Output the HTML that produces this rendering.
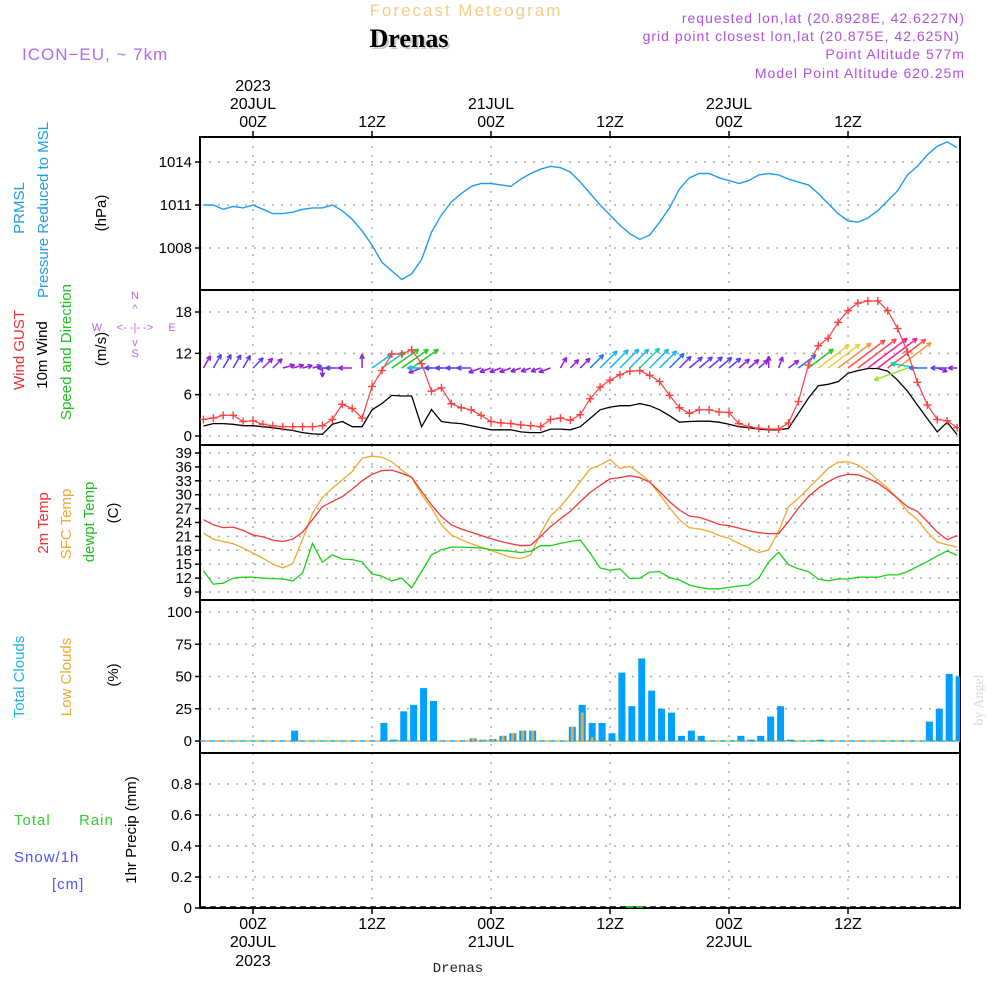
<!DOCTYPE html>
<html><head><meta charset="utf-8"><style>
html,body{margin:0;padding:0;background:#fff;}
svg{display:block;font-family:"Liberation Sans",sans-serif;}
</style></head><body>
<svg id="c" width="1000" height="1000" viewBox="0 0 1000 1000" xmlns="http://www.w3.org/2000/svg">
<g>
<text x="466" y="16" text-anchor="middle" font-size="17" fill="#f3cc88" letter-spacing="2">Forecast Meteogram</text>
<text x="411" y="49" text-anchor="middle" font-size="26" font-weight="bold" font-family="Liberation Serif,serif" fill="#c8d0c0">Drenas</text>
<text x="409" y="47" text-anchor="middle" font-size="26" font-weight="bold" font-family="Liberation Serif,serif" fill="#000">Drenas</text>
<text x="22" y="60" font-size="17" fill="#b468ee" letter-spacing="1">ICON−EU, ~ 7km</text>
<g font-size="14" fill="#b050e0" text-anchor="end" letter-spacing="1">
<text x="965" y="23">requested lon,lat (20.8928E, 42.6227N)</text>
<text x="960" y="41">grid point closest lon,lat (20.875E, 42.625N)</text>
<text x="965" y="59">Point Altitude 577m</text>
<text x="965" y="78">Model Point Altitude 620.25m</text>
</g>
</g>
<g id="axes"></g>
<g id="marks"></g>
<g font-size="15">
<text transform="translate(24,208) rotate(-90)" text-anchor="middle" fill="#1e9bf0">PRMSL</text>
<text transform="translate(48,210) rotate(-90)" text-anchor="middle" fill="#1e9bf0">Pressure Reduced to MSL</text>
<text transform="translate(106,213) rotate(-90)" text-anchor="middle" fill="#000">(hPa)</text>
<text transform="translate(24,350) rotate(-90)" text-anchor="middle" fill="#f03030">Wind GUST</text>
<text transform="translate(47,355) rotate(-90)" text-anchor="middle" fill="#000">10m Wind</text>
<text transform="translate(71,352) rotate(-90)" text-anchor="middle" fill="#20c020">Speed and Direction</text>
<text transform="translate(106,349) rotate(-90)" text-anchor="middle" fill="#000">(m/s)</text>
<g fill="#b468ee" font-size="11">
<text x="135" y="299" text-anchor="middle">N</text>
<text x="135" y="312" text-anchor="middle">^</text>
<text x="97" y="331" text-anchor="middle">W</text>
<text x="135" y="331" text-anchor="middle">&lt;- -|- -&gt;</text>
<text x="172" y="331" text-anchor="middle">E</text>
<text x="135" y="346" text-anchor="middle">v</text>
<text x="135" y="357" text-anchor="middle">S</text>
</g>
<text transform="translate(48,523) rotate(-90)" text-anchor="middle" fill="#f03030">2m Temp</text>
<text transform="translate(71,524) rotate(-90)" text-anchor="middle" fill="#f0a830">SFC Temp</text>
<text transform="translate(94,522) rotate(-90)" text-anchor="middle" fill="#20c020">dewpt Temp</text>
<text transform="translate(118,513) rotate(-90)" text-anchor="middle" fill="#000">(C)</text>
<text transform="translate(24,677) rotate(-90)" text-anchor="middle" fill="#1eb0f0">Total Clouds</text>
<text transform="translate(71,677) rotate(-90)" text-anchor="middle" fill="#f0a830">Low Clouds</text>
<text transform="translate(118,675) rotate(-90)" text-anchor="middle" fill="#000">(%)</text>
<text x="14" y="825" fill="#30d030" letter-spacing="1">Total</text>
<text x="79" y="825" fill="#30d030" letter-spacing="1">Rain</text>
<text x="14" y="862" fill="#5050ff" letter-spacing="1">Snow/1h</text>
<text x="52" y="889" fill="#5050ff" letter-spacing="1">[cm]</text>
<text transform="translate(136,830) rotate(-90)" text-anchor="middle" fill="#000">1hr Precip (mm)</text>
</g>
<text transform="translate(983,700) rotate(-90)" text-anchor="middle" font-size="14" font-family="Liberation Serif,serif" fill="#d8d8d8">by Angel</text>
<text x="458" y="972" text-anchor="middle" font-size="14" font-family="Liberation Mono,monospace" fill="#222">Drenas</text>
</svg>
<script>
const hours0 = -5;
const pressure = [1011.0,1011.0,1010.7,1010.9,1010.8,1011.0,1010.7,1010.4,1010.4,1010.5,1010.7,1010.8,1010.8,1011.0,1010.6,1010.0,1009.2,1008.2,1007.0,1006.4,1005.8,1006.2,1007.2,1009.1,1010.3,1011.2,1011.8,1012.3,1012.5,1012.5,1012.4,1012.3,1012.8,1013.2,1013.5,1013.7,1013.6,1013.3,1012.6,1011.8,1011.0,1010.3,1009.6,1009.0,1008.6,1008.9,1009.8,1010.8,1012.1,1012.9,1013.2,1013.2,1012.9,1012.7,1012.5,1012.7,1013.1,1013.2,1013.1,1012.8,1012.6,1012.4,1011.8,1011.1,1010.4,1009.9,1009.8,1010.1,1010.6,1011.3,1012.0,1013.1,1013.7,1014.5,1015.1,1015.4,1015.0];
const gust = [2.4,2.6,3.0,3.0,2.1,2.2,1.7,1.5,1.35,1.35,1.35,1.35,1.5,2.4,4.6,4.0,2.6,7.2,9.5,11.9,11.9,12.5,10.5,6.5,7.0,4.7,4.1,3.8,3.0,2.1,1.9,1.8,1.6,1.5,1.35,2.4,2.6,2.3,3.1,5.4,7.1,8.1,8.9,9.4,9.5,8.8,7.9,5.9,4.1,3.3,3.8,3.8,3.5,3.4,1.8,1.35,1.1,1.0,1.0,1.9,5.0,10.3,13.1,14.2,16.5,18.2,19.3,19.6,19.6,18.2,15.6,12.2,7.8,4.5,2.4,2.2,1.2];
const wind = [1.45,1.8,1.8,1.7,1.5,1.5,1.35,1.2,1.0,0.8,0.5,0.3,0.25,1.7,2.1,1.35,1.35,3.8,4.7,5.9,5.8,5.8,1.35,3.85,2.1,1.9,1.8,1.5,1.2,0.9,0.9,0.9,0.6,0.5,0.5,1.0,1.0,0.9,1.35,2.55,3.8,4.2,4.4,4.4,4.7,4.4,3.8,2.95,2.0,2.1,2.15,2.15,2.0,1.7,1.35,1.2,1.0,0.9,0.9,1.1,3.3,5.5,7.3,7.5,7.9,9.1,9.5,9.8,9.8,9.4,8.1,6.5,4.5,2.5,0.6,2.0,0.2];
const windDir = [60,60,60,60,60,45,45,45,15,15,15,15,-90,180,180,180,90,35,35,35,35,35,200,180,180,180,180,180,200,200,200,200,200,200,200,200,60,45,45,45,45,45,45,45,45,45,45,45,45,40,40,40,40,40,40,40,40,90,70,37,37,37,37,37,37,37,37,37,37,37,37,200,170,180,-20,180,180];
const temp2m = [24.6,23.5,22.9,23.0,22.3,21.3,20.9,20.2,19.9,20.4,21.9,24.6,27.4,28.5,29.6,31.2,33.0,34.4,35.2,35.3,34.6,33.8,30.7,27.8,25.3,23.5,22.6,21.9,21.2,20.5,19.9,19.4,19.0,19.1,21.0,23.1,24.8,26.4,28.5,30.5,32.0,33.4,33.7,34.1,33.7,32.7,30.7,28.5,26.7,25.4,25.1,24.4,23.6,23.3,22.8,22.2,21.8,21.6,21.6,24.2,27.1,29.6,31.4,32.8,33.9,34.4,34.3,33.5,32.5,31.0,29.2,27.4,26.4,24.2,21.9,20.3,21.2];
const tempSfc = [21.7,20.4,19.9,19.4,18.5,17.4,16.3,15.0,14.2,15.1,20.4,26.0,29.4,31.4,33.2,35.0,37.9,38.3,38.1,37.1,35.3,33.7,30.0,27.1,23.5,21.3,20.3,19.4,18.7,18.0,17.2,16.5,16.2,17.0,21.7,25.4,27.4,30.0,32.8,35.6,36.4,37.6,35.7,36.1,34.6,32.8,30.1,27.2,24.6,22.9,22.6,22.1,21.2,20.6,19.5,18.5,17.5,18.1,22.1,27.4,29.2,31.4,33.5,35.7,37.0,37.1,36.4,35.0,33.2,31.4,29.2,26.4,24.6,21.9,19.8,19.2,18.7];
const dewpt = [13.6,10.7,10.9,12.0,12.2,12.2,12.0,11.9,11.8,11.4,13.1,19.5,15.4,17.0,16.1,16.0,15.5,12.9,12.4,11.4,12.0,9.9,13.4,17.0,18.1,18.7,18.7,18.6,18.5,18.1,18.0,17.8,17.5,17.8,19.0,19.0,19.5,19.9,20.2,17.4,14.2,13.7,14.0,11.9,12.0,13.3,13.4,12.1,11.6,10.5,10.0,9.7,9.7,10.0,10.3,10.5,12.0,15.5,17.6,14.9,14.0,13.4,11.8,11.4,11.8,11.8,12.2,12.2,12.2,12.7,12.7,13.4,14.5,15.6,16.8,17.9,16.9];
const totalClouds = [0,0,0,0,0,0,0,0,0,8,0,0,0,0,0,0,0,0,14,1,23,28,41,31,0,0,0,2,1,1.5,4,6,8,8,0,0,0,11,28,14,14,6,53,27,64,39,25,22,4,8,4,0,0,0,4,1,4,19,27,1,0,0,1,0,0,0,0,0,0,0,0,0,0,15,25,52,50];
const lowClouds = [0,0,0,0,0,0,0,0,0,0,0,0,0,0,0,0,0,0,0,0,0,0,0,0,0,0,0,2,1,1.5,4,6,8,8,0,0,0,11,22,3,0,0,0,0,0,0,0,0,0,0,0,0,0,0,0,0,0,0,0,0,0,0,0,0,0,0,0,0,0,0,0,0,0,0,0,0,0];
const precip = [0,0,0,0,0,0,0,0,0,0,0,0,0,0,0,0,0,0,0,0,0,0,0,0,0,0,0,0,0,0,0,0,0,0,0,0,0,0,0,0,0,0,0,0.01,0.01,0,0,0,0,0,0,0,0,0,0,0,0,0,0,0,0,0,0,0,0,0,0,0,0,0,0,0,0,0,0,0,0];
const timeTicks = [0,12,24,36,48,60];
const timeLabels = ["00Z","12Z","00Z","12Z","00Z","12Z"];
const dateLabels = ["20JUL","","21JUL","","22JUL",""];
const pTicks = [1008,1011,1014];
const wTicks = [0,6,12,18];
const tTicks = [9,12,15,18,21,24,27,30,33,36,39];
const cTicks = [0,25,50,75,100];
const rTicks = [0,0.2,0.4,0.6,0.8];

const NS='http://www.w3.org/2000/svg';
const X0=200,X1=960;
const xh = h => 253 + h*9.917;
const lin=(v0,y0,v1,y1)=>v=>y0+(v-v0)*(y1-y0)/(v1-v0);
const yP=lin(1014,162,1011,205), yW=lin(0,436,18,312), yT=lin(39,453,9,592), yC=lin(0,741,100,612), yR=lin(0,908,0.8,784);
const panels=[{t:137,b:290,y:yP,ticks:pTicks,fmt:v=>v},{t:290,b:445,y:yW,ticks:wTicks,fmt:v=>v},{t:445,b:600,y:yT,ticks:tTicks,fmt:v=>v},{t:600,b:753,y:yC,ticks:cTicks,fmt:v=>v},{t:753,b:908,y:yR,ticks:rTicks,fmt:v=>v===0?'0':v.toFixed(1)}];
const axes=document.getElementById('axes'), marks=document.getElementById('marks');
function mk(tag,at,parent){const e=document.createElementNS(NS,tag);for(const k in at)e.setAttribute(k,at[k]);(parent||marks).appendChild(e);return e;}
const panelNames=['pressure-panel','wind-panel','temperature-panel','clouds-panel','precip-panel'];
panels.forEach((p,i)=>{
  const g=mk('g',{},axes);
  
  
  p.ticks.forEach(v=>{
    const y=p.y(v);
    const gl=mk('line',{x1:X0,x2:X1,y1:y,y2:y,stroke:'#aaa','stroke-width':1.5,'stroke-dasharray':'2 7'},g);
    
    
    mk('line',{x1:X0-5,x2:X0,y1:y,y2:y,stroke:'#000','stroke-width':1.5},g);
    const t=mk('text',{x:X0-8,y:y+5,'text-anchor':'end','font-size':15,fill:'#000'},g);
    t.textContent=p.fmt(v);
    
    
  });
  timeTicks.forEach(h=>{
    const vl=mk('line',{x1:xh(h),x2:xh(h),y1:p.t,y2:p.b,stroke:'#aaa','stroke-width':1.5,'stroke-dasharray':'2 7'},g);
    
    
  });
  const r=mk('rect',{x:X0,y:p.t,width:X1-X0,height:p.b-p.t,fill:'none',stroke:'#000','stroke-width':2},g);
  
  
});
timeTicks.forEach((h,i)=>{
  const x=xh(h);
  mk('line',{x1:x,x2:x,y1:131,y2:137,stroke:'#000','stroke-width':1.5},axes);
  mk('line',{x1:x,x2:x,y1:908,y2:914,stroke:'#000','stroke-width':1.5},axes);
  const a=mk('text',{x:x,y:127,'text-anchor':'middle','font-size':16},axes);a.textContent=timeLabels[i];
  
  
  const b=mk('text',{x:x,y:929,'text-anchor':'middle','font-size':16},axes);b.textContent=timeLabels[i];
  
  
  if(dateLabels[i]){
    const c=mk('text',{x:x,y:109,'text-anchor':'middle','font-size':16},axes);c.textContent=dateLabels[i];
    
    
    const d=mk('text',{x:x,y:947,'text-anchor':'middle','font-size':16},axes);d.textContent=dateLabels[i];
    
    
  }
});
const y1=mk('text',{x:253,y:91,'text-anchor':'middle','font-size':16},axes);y1.textContent='2023';


const y2=mk('text',{x:253,y:966,'text-anchor':'middle','font-size':16},axes);y2.textContent='2023';



function poly(arr,yf,color,name,w){
  const pts=arr.map((v,i)=>xh(hours0+i).toFixed(1)+','+yf(v).toFixed(1)).join(' ');
  const e=mk('polyline',{points:pts,fill:'none',stroke:color,'stroke-width':w||1.3});
  
  
  return e;
}
const defs=mk('defs',{});
const cp=mk('clipPath',{id:'pc'},defs);mk('rect',{x:X0,y:137,width:X1-X0,height:771},cp);
marks.setAttribute('clip-path','url(#pc)');

poly(pressure,yP,'#1e9bf0','pressure-line',1.4);

const cb=mk('line',{x1:X0,x2:X1,y1:741,y2:741,stroke:'#1eb0f0','stroke-width':1.5,'stroke-dasharray':'5 5'});


const cb2=mk('line',{x1:X0+5,x2:X1,y1:741,y2:741,stroke:'#f0a830','stroke-width':1.5,'stroke-dasharray':'5 5'});


totalClouds.forEach((v,i)=>{
  if(v<=0)return;
  const x=xh(hours0+i+0.2);
  const b=mk('rect',{x:x-3.5,y:yC(v),width:7,height:741-yC(v),fill:'#00a0ff'});
  
  
});
lowClouds.forEach((v,i)=>{
  if(v<=0)return;
  const x=xh(hours0+i+0.2);
  const b=mk('rect',{x:x-1.5,y:yC(v),width:3,height:741-yC(v),fill:'#f0a830'});
  
  
});
const pb=mk('line',{x1:X0,x2:X1,y1:907,y2:907,stroke:'#000','stroke-width':1.5,'stroke-dasharray':'6 4'});


precip.forEach((v,i)=>{
  if(v<=0)return;
  const x=xh(hours0+i);
  const h=Math.max(2,908-yR(v));
  const b=mk('rect',{x:x-3.5,y:908-h,width:7,height:h,fill:'#20b020'});
  
  
});

poly(tempSfc,yT,'#f0a830','sfc-temp-line',1.3);
poly(temp2m,yT,'#f03838','temp-2m-line',1.3);
poly(dewpt,yT,'#18d018','dewpoint-line',1.3);

poly(wind,yW,'#000','wind-speed-line',1.3);
function windColor(s){
  if(s<1.5)return '#9020e0';
  if(s<2.5)return '#5a3cf0';
  if(s<3.5)return '#2070ff';
  if(s<4.5)return '#10b8f0';
  if(s<5.2)return '#10d0a0';
  if(s<6)return '#20c820';
  if(s<6.8)return '#a0e030';
  if(s<7.6)return '#e8d040';
  if(s<8.6)return '#f09840';
  if(s<9.6)return '#ff4848';
  return '#ff1890';
}
windDir.forEach((d,i)=>{
  const s=wind[i];
  const x=xh(hours0+i), y=368;
  const L=8+4.2*s;
  const a=d*Math.PI/180;
  const x2=x+L*Math.cos(a), y2=y-L*Math.sin(a);
  const col=windColor(s);
  const g=mk('g',{stroke:col,'stroke-width':1.5,fill:'none'});
  
  
  mk('line',{x1:x,y1:y,x2:x2,y2:y2},g);
  const hl=5;
  [a+Math.PI-0.45,a+Math.PI+0.45].forEach(b=>{
    mk('line',{x1:x2,y1:y2,x2:x2+hl*Math.cos(b),y2:y2-hl*Math.sin(b)},g);
  });
});
poly(gust,yW,'#ff4040','gust-line',1.2);
gust.forEach((v,i)=>{
  const x=xh(hours0+i), y=yW(v);
  const p=mk('path',{d:`M${x-4},${y}H${x+4}M${x},${y-4}V${y+4}`,stroke:'#ff4040','stroke-width':1.4});
  
  
});
</script>
</body></html>
